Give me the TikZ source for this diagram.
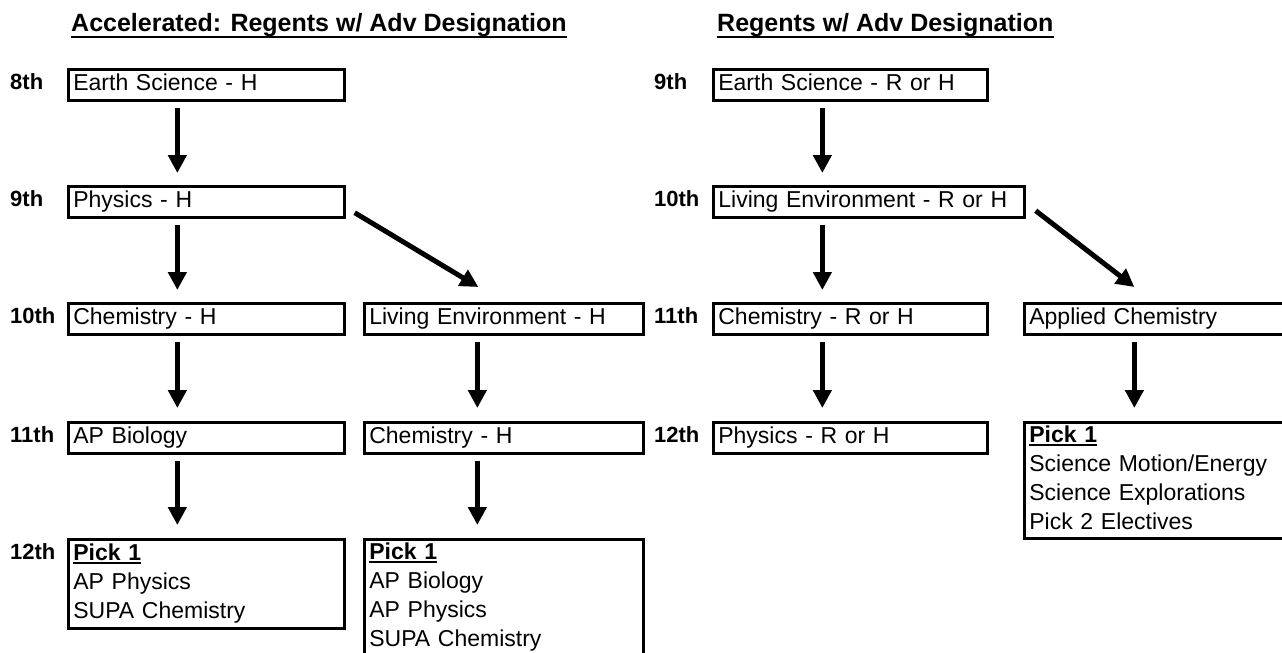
\documentclass[tikz,border=0pt]{standalone}
\usepackage{fontspec}
\setmainfont{Liberation Sans}
\usetikzlibrary{arrows.meta}
\newcommand\pickul[1]{\setbox0\hbox{#1}\rlap{\rule[-3.5pt]{\wd0}{1.8pt}}\box0}
\tikzset{
 box/.style={draw, line width=2.7pt, rectangle, anchor=north west, inner xsep=5pt, inner ysep=0pt,
   minimum height=31pt, align=left, font=\fontsize{23}{29}\selectfont},
 grade/.style={anchor=base west, inner sep=0pt, font=\bfseries\fontsize{22}{26}\selectfont},
 ttl/.style={anchor=base west, inner sep=0pt, font=\bfseries\fontsize{25}{30}\selectfont},
 arr/.style={line width=5pt, -{Triangle[width=18pt,length=18pt]}},
 uline/.style={line width=2.5pt}
}
\begin{document}
\begin{tikzpicture}[x=1pt,y=-1pt]
\useasboundingbox[fill=white] (0,0) rectangle (1282,653);
% titles
\node[ttl] (t1) at (71,31) {Accelerated: Regents w/ Adv Designation};
\node[ttl] (t2) at (717,31) {Regents w/ Adv Designation};
\draw[uline] ([yshift=-6pt]t1.base west) -- ([yshift=-6pt]t1.base east);
\draw[uline] ([yshift=-6pt]t2.base west) -- ([yshift=-6pt]t2.base east);
% grade labels left
\node[grade] (g8)  at (10,89)  {8th};
\node[grade] (g9)  at (10,206) {9th};
\node[grade] (g10) at (10,323) {10th};
\node[grade] (g11) at (10,442) {11th};
\node[grade] (g12) at (10,559) {12th};
% grade labels right
\node[grade] (r9)  at (654,89)  {9th};
\node[grade] (r10) at (654,206) {10th};
\node[grade] (r11) at (654,323) {11th};
\node[grade] (r12) at (654,442) {12th};
% left column
\node[box, text width=266pt] (a1) at (67,68)  {\strut Earth Science - H};
\node[box, text width=266pt] (a2) at (67,185) {\strut Physics - H};
\node[box, text width=266pt] (a3) at (67,302) {\strut Chemistry - H};
\node[box, text width=266pt] (a4) at (67,421) {\strut AP Biology};
\node[box, text width=266pt, minimum height=89pt] (a5) at (67,538)
  {\strut\pickul{\textbf{Pick 1}}\\AP Physics\\SUPA Chemistry\strut};
% middle column
\node[box, text width=269pt] (b3) at (363,302) {\strut Living Environment - H};
\node[box, text width=269pt] (b4) at (363,421) {\strut Chemistry - H};
\node[box, text width=269pt] (b5) at (363,538)
  {\strut\pickul{\textbf{Pick 1}}\\AP Biology\\AP Physics\\SUPA Chemistry\rule[-16pt]{0pt}{1pt}};
% right column
\node[box, text width=264pt] (c1) at (712,68)  {\strut Earth Science - R or H};
\node[box, text width=301pt] (c2) at (712,185) {\strut Living Environment - R or H};
\node[box, text width=264pt] (c3) at (712,302) {\strut Chemistry - R or H};
\node[box, text width=264pt] (c4) at (712,421) {\strut Physics - R or H};
% far right column
\node[box, text width=266pt] (d3) at (1023,302) {\strut Applied Chemistry};
\node[box, text width=266pt] (d4) at (1023,421)
  {\strut\pickul{\textbf{Pick 1}}\\Science Motion/Energy\\Science Explorations\\Pick 2 Electives\strut};
% arrows left
\draw[arr] ([xshift=-29pt,yshift=-6pt]a1.south) -- ([xshift=-29pt,yshift=12pt]a2.north);
\draw[arr] ([xshift=-29pt,yshift=-6pt]a2.south) -- ([xshift=-29pt,yshift=12pt]a3.north);
\draw[arr] ([xshift=-29pt,yshift=-6pt]a3.south) -- ([xshift=-29pt,yshift=13pt]a4.north);
\draw[arr] ([xshift=-29pt,yshift=-6pt]a4.south) -- ([xshift=-29pt,yshift=13pt]a5.north);
\draw[arr] ([xshift=9pt,yshift=6pt]a2.south east) -- ([xshift=-25.5pt,yshift=15pt]b3.north);
% arrows middle
\draw[arr] ([xshift=-26.5pt,yshift=-6pt]b3.south) -- ([xshift=-26.5pt,yshift=13pt]b4.north);
\draw[arr] ([xshift=-26.5pt,yshift=-6pt]b4.south) -- ([xshift=-26.5pt,yshift=13pt]b5.north);
% arrows right
\draw[arr] ([xshift=-28pt,yshift=-6pt]c1.south) -- ([xshift=-46.5pt,yshift=12pt]c2.north);
\draw[arr] ([xshift=-46.5pt,yshift=-6pt]c2.south) -- ([xshift=-28pt,yshift=12pt]c3.north);
\draw[arr] ([xshift=-28pt,yshift=-6pt]c3.south) -- ([xshift=-28pt,yshift=13pt]c4.north);
\draw[arr] ([xshift=10pt,yshift=8pt]c2.south east) -- ([xshift=-28pt,yshift=15pt]d3.north);
\draw[arr] ([xshift=-28pt,yshift=-6pt]d3.south) -- ([xshift=-28pt,yshift=13pt]d4.north);
\end{tikzpicture}
\end{document}
